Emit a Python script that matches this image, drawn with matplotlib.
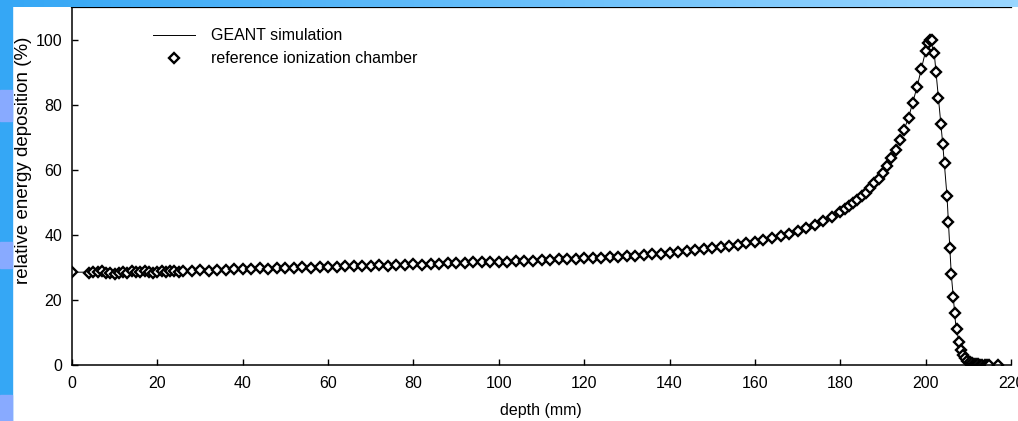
import numpy as np
import matplotlib
matplotlib.use('Agg')
import matplotlib.pyplot as plt
from matplotlib.patches import Rectangle

# ── Data ──────────────────────────────────────────────────
CHAMBER_DEPTH = [
    0, 4, 5, 6, 7, 8, 9, 10, 11, 12, 13, 14, 15, 16, 17, 18, 19, 20, 21, 22, 23, 24, 25, 26,
    28, 30, 32, 34, 36, 38, 40, 42, 44, 46, 48, 50, 52, 54, 56, 58, 60, 62, 64, 66, 68,
    70, 72, 74, 76, 78, 80, 82, 84, 86, 88, 90, 92, 94, 96, 98,
    100, 102, 104, 106, 108, 110, 112, 114, 116, 118, 120, 122, 124, 126, 128, 130,
    132, 134, 136, 138, 140, 142, 144, 146, 148, 150, 152, 154, 156, 158, 160, 162,
    164, 166, 168, 170, 172, 174, 176, 178,
    180, 181, 182, 183, 184, 185, 186, 187, 188, 189, 190, 191, 192, 193, 194, 195,
    196, 197, 198, 199, 200, 200.5, 201, 201.5,
    202, 202.5, 203, 203.5, 204, 204.5, 205, 205.3, 205.6, 206, 206.4, 206.8, 207.3,
    207.8, 208.3, 208.8, 209.3, 209.8, 210.3, 210.8, 211.3, 211.8, 212.3, 212.8,
    213.3, 213.8, 214.3, 214.8, 217,
]
CHAMBER_DOSE = [
    28.6, 28.3, 28.7, 28.5, 28.8, 28.4, 28.2, 28.0, 28.3, 28.6, 28.4, 28.9, 28.7, 28.5,
    28.8, 28.6, 28.4, 28.7, 28.9, 28.6, 28.8, 29.0, 28.7, 28.9,
    29.0, 29.1, 29.0, 29.3, 29.2, 29.4, 29.5, 29.4, 29.7, 29.6, 29.8, 29.7, 29.9, 30.0,
    29.9, 30.1, 30.2, 30.1, 30.3, 30.4, 30.3,
    30.5, 30.6, 30.5, 30.7, 30.8, 30.9, 30.8, 31.0, 31.1, 31.2, 31.3, 31.2, 31.5, 31.6, 31.6,
    31.7, 31.8, 31.9, 32.0, 32.1, 32.2, 32.3, 32.5, 32.6, 32.7, 32.8, 32.9, 33.0, 33.2,
    33.3, 33.4, 33.6, 33.8, 34.0, 34.2, 34.4, 34.6, 34.9, 35.2, 35.5, 35.8, 36.2, 36.6,
    37.0, 37.4, 37.9, 38.4, 39.0, 39.6, 40.3, 41.1, 42.0, 43.0, 44.2, 45.6,
    47.0, 47.9, 48.8, 49.8, 50.8, 51.9, 53.0, 54.3, 55.8, 57.3, 59.0, 61.1, 63.5, 66.1,
    69.0, 72.3, 76.0, 80.5, 85.5, 91.0, 96.5, 99.0, 100.0, 99.8,
    96.0, 90.0, 82.0, 74.0, 68.0, 62.0, 52.0, 44.0, 36.0, 28.0, 21.0, 16.0, 11.0,
    7.0, 4.5, 3.0, 2.0, 1.3, 0.8, 0.5, 0.3, 0.2, 0.2, 0.1,
    0.1, 0.1, 0.1, 0.1, 0.1,
]

GEANT_DEPTH = [0, 10, 20, 30, 40, 50, 60, 70, 80, 90, 100, 110, 120, 130, 140, 150, 160,
               165, 170, 175, 180, 184, 188, 190, 192, 194, 196, 198, 199, 200, 201,
               202, 203, 204, 205, 206, 207, 208, 209, 210, 211, 212, 214, 216]
GEANT_DOSE = [28.5, 28.6, 28.8, 29.1, 29.4, 29.8, 30.2, 30.6, 31.0, 31.3, 31.7, 32.2, 32.8,
              33.4, 34.4, 35.8, 37.9, 39.3, 41.1, 43.6, 47.0, 50.8, 55.8, 59.0, 63.5, 69.0,
              76.0, 85.5, 91.0, 96.5, 100.0, 96.0, 82.0, 68.0, 52.0, 28.0, 13.0, 5.5, 2.4,
              1.0, 0.4, 0.2, 0.1, 0.1]

X_TICKS = [0, 20, 40, 60, 80, 100, 120, 140, 160, 180, 200, 220]
Y_TICKS = [0, 20, 40, 60, 80, 100]

plt.rcParams['font.family'] = ['Liberation Sans', 'DejaVu Sans']

W, H = 1018, 421
fig = plt.figure(figsize=(W / 100, H / 100), dpi=100, facecolor='white')
ax = fig.add_axes([72 / W, 1 - 365 / H, (1011 - 72) / W, (365 - 7) / H])

ax.plot(GEANT_DEPTH, GEANT_DOSE, color='black', lw=0.7, label='GEANT simulation')
ax.plot(CHAMBER_DEPTH, CHAMBER_DOSE, ls='none', marker='D', ms=4.8, mew=1.7,
        mfc='white', mec='black', label='reference ionization chamber')

ax.set_xlim(0, 220)
ax.set_ylim(0, 110)
ax.set_xticks(X_TICKS)
ax.set_yticks(Y_TICKS)
ax.tick_params(direction='in', length=4.5, width=1, labelsize=11.5, colors='black')
ax.tick_params(axis='x', pad=8)
ax.tick_params(axis='y', pad=7)
ax.spines['right'].set_visible(False)
for s in ['left', 'bottom', 'top']:
    ax.spines[s].set_linewidth(1.1)
ax.spines['top'].set_linewidth(1.6)

ax.set_xlabel('depth (mm)', fontsize=11.5)
ax.xaxis.set_label_coords(0.4995, -0.105)
ax.set_ylabel('relative energy deposition (%)', fontsize=13.5)
ax.yaxis.set_label_coords(-0.043, 0.573)

ax.legend(loc='upper left', bbox_to_anchor=(0.0863, 0.94), frameon=False, fontsize=11.5,
          handlelength=2.6, handletextpad=1.0, labelspacing=0.5, borderpad=0,
          borderaxespad=0, numpoints=1)

# slide background strips
blue = '#35a7f5'
lav = '#88aaff'
fig.patches.append(Rectangle((0, 0), 12 / W, 1, transform=fig.transFigure,
                             color=blue, zorder=5))
for y0, y1 in [(90, 121), (242, 268), (395, 421)]:
    fig.patches.append(Rectangle((0, 1 - y1 / H), 12 / W, (y1 - y0) / H,
                                 transform=fig.transFigure, color=lav, zorder=6))
top = fig.add_axes([0, 1 - 7 / H, 1, 7 / H], zorder=10)
grad = np.linspace(0, 1, 256)[None, :]
cmap = matplotlib.colors.LinearSegmentedColormap.from_list('strip', ['#35a7f5', '#9ad6ff'])
top.imshow(grad, aspect='auto', cmap=cmap, extent=[0, 1, 0, 1])
top.set_axis_off()

fig.savefig('out.png', dpi=100, facecolor='white')
